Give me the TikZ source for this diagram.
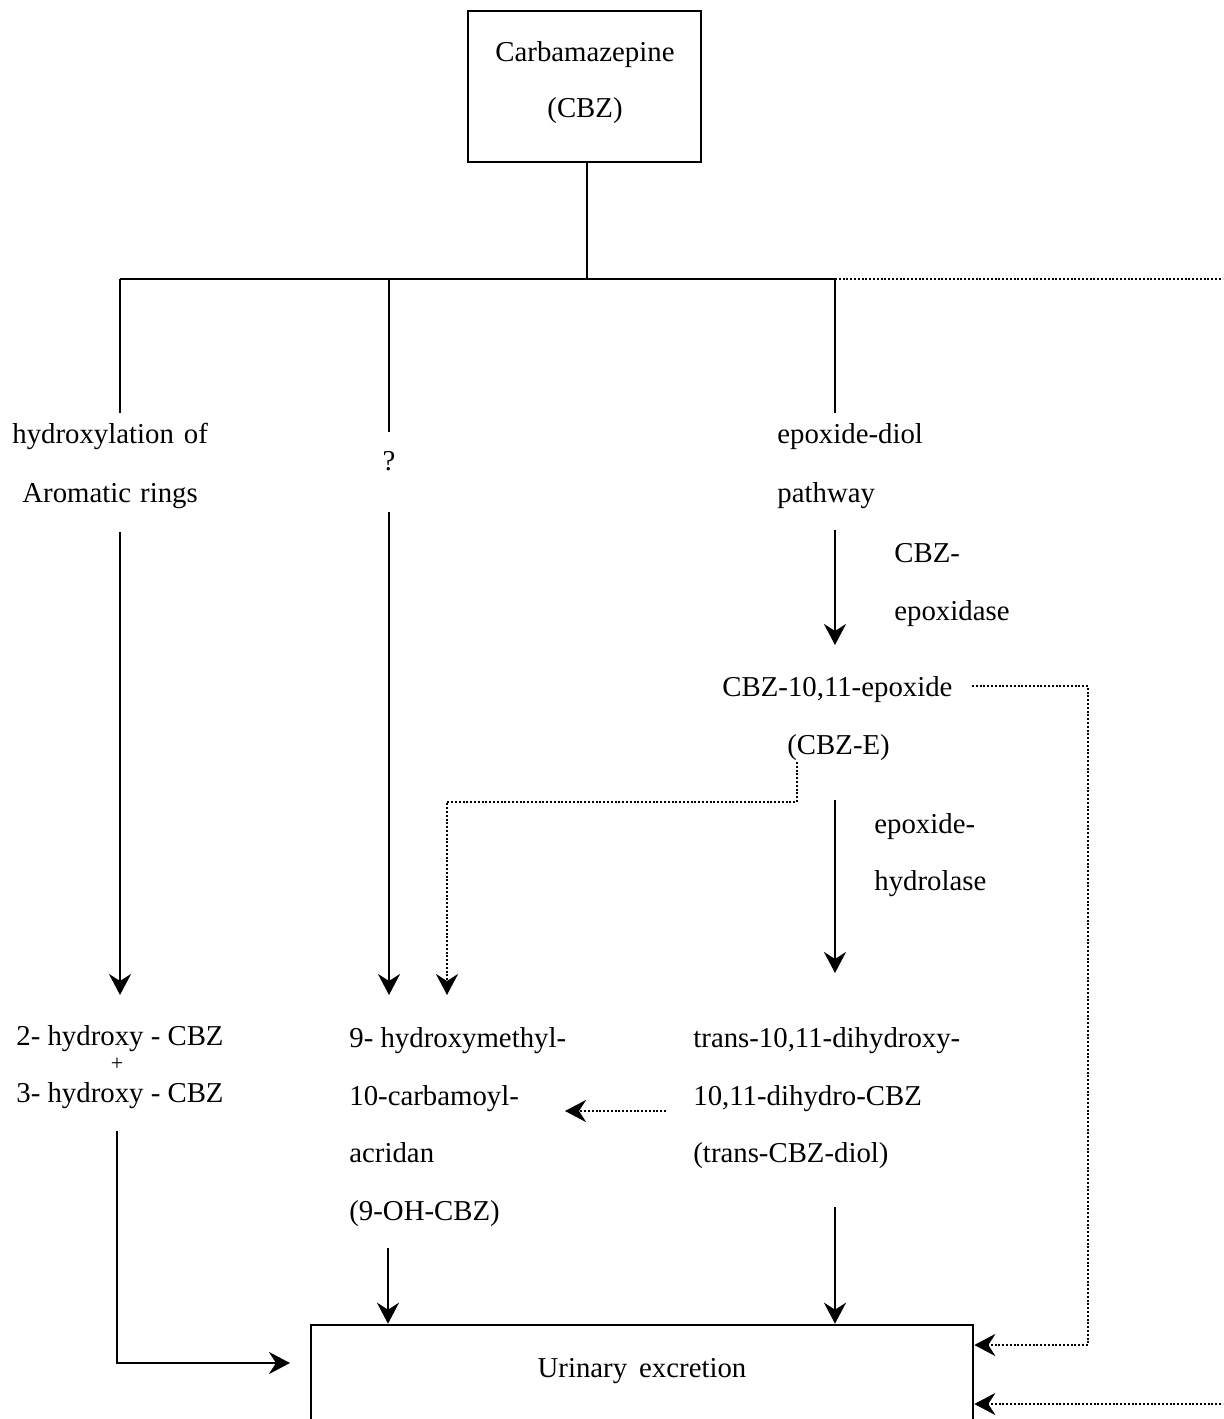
\documentclass[tikz,border=0pt]{standalone}
\usepackage{fontspec}
\setmainfont{Liberation Serif}
\usetikzlibrary{arrows.meta}
\begin{document}
\begin{tikzpicture}[x=0.5pt,y=-0.5pt,
  lbl/.style={inner sep=0pt, anchor=base west, font=\fontsize{14.4}{17}\selectfont},
  clbl/.style={lbl, anchor=base},
  solidline/.style={line width=1.3pt},
  dotline/.style={line width=1.3pt, dash pattern=on 1pt off 0.9pt},
  tip/.style={-{Stealth[length=10.5pt,width=11pt,inset=3.5pt]}},
  ]
\useasboundingbox (0,0) rectangle (1223,1419);
\clip (0,0) rectangle (1223,1419);

% top box
\node[draw, line width=1.3pt, minimum width=116.5pt, minimum height=75.5pt, inner sep=0pt] (cbz) at (584.5,86.5) {};
\node[clbl] (cbzname) at (585,61) {Carbamazepine};
\node[clbl] (cbzabbr) at (585,117) {(CBZ)};

% bottom box
\node[draw, line width=1.3pt, minimum width=331pt, minimum height=100pt, inner sep=0pt] (urine) at (642,1425) {};
\node[clbl] (urtext) at (642,1377) {Urinary\hspace{6pt}excretion};

% labels
\node[lbl] (hyd1) at (12,443) {hydroxylation\hspace{5pt}of};
\node[lbl] (hyd2) at (22,502) {Aromatic\hspace{4.5pt}rings};
\node[clbl] (qm) at (389,470) {?};
\node[lbl] (epd1) at (777,443) {epoxide-diol};
\node[lbl] (epd2) at (777,502) {pathway};
\node[lbl] (enz1a) at (894,562) {CBZ-};
\node[lbl] (enz1b) at (894,620) {epoxidase};
\node[lbl] (cbze1) at (722,696) {CBZ-10,11-epoxide};
\node[lbl] (cbze2) at (787,754) {(CBZ-E)};
\node[lbl] (enz2a) at (874,833) {epoxide-};
\node[lbl] (enz2b) at (874,890) {hydrolase};
\node[lbl] (oh1) at (16,1045) {2- hydroxy - CBZ};
\node[inner sep=0pt, font=\fontsize{11}{12}\selectfont] (plus) at (117,1064) {+};
\node[lbl] (oh2) at (16,1102) {3- hydroxy - CBZ};
\node[lbl] (acr1) at (349,1047) {9- hydroxymethyl-};
\node[lbl] (acr2) at (349,1105) {10-carbamoyl-};
\node[lbl] (acr3) at (349,1162) {acridan};
\node[lbl] (acr4) at (349,1220) {(9-OH-CBZ)};
\node[lbl] (dio1) at (693,1047) {trans-10,11-dihydroxy-};
\node[lbl] (dio2) at (693,1105) {10,11-dihydro-CBZ};
\node[lbl] (dio3) at (693,1162) {(trans-CBZ-diol)};

% junction coordinates
\coordinate (jn) at (587,279);
\coordinate (jl) at (120,279);
\coordinate (jm) at (389,279);
\coordinate (jr) at (835,279);
\coordinate (jre) at (1240,279);

\draw[solidline] (cbz.south -| jn) -- (jn);
\draw[solidline] (jl) -- (jr);
\draw[dotline] (jr) -- (jre);

% left branch
\coordinate (l1) at (120,413);
\coordinate (l2) at (120,532);
\coordinate (l3) at (120,995);
\draw[solidline] (jl) -- (l1);
\draw[solidline,tip] (l2) -- (l3);

% middle branch
\coordinate (m1) at (389,432);
\coordinate (m2) at (389,512);
\coordinate (m3) at (389,995);
\draw[solidline] (jm) -- (m1);
\draw[solidline,tip] (m2) -- (m3);

% right branch
\coordinate (r1) at (835,413);
\coordinate (r2) at (835,530);
\coordinate (r3) at (835,645);
\coordinate (r4) at (835,800);
\coordinate (r5) at (835,973);
\coordinate (r6) at (835,1207);
\draw[solidline] (jr) -- (r1);
\draw[solidline,tip] (r2) -- (r3);
\draw[solidline,tip] (r4) -- (r5);
\draw[solidline,tip] (r6) -- (r6 |- urine.north);

% CBZ-E to 9-OH-CBZ (dotted)
\coordinate (e1) at (797,762);
\coordinate (e2) at (797,802);
\coordinate (e3) at (447,802);
\coordinate (e4) at (447,995);
\draw[dotline,tip] (e1) -- (e2) -- (e3) -- (e4);

% CBZ-E to urine (dotted)
\coordinate (f1) at (972,686);
\coordinate (f2) at (1088,686);
\coordinate (f3) at (1088,1345);
\draw[dotline,tip] (f1) -- (f2) -- (f3) -- (f3 -| urine.east);

% from right edge to urine (dotted)
\coordinate (g1) at (1240,1404);
\draw[dotline,tip] (g1) -- (g1 -| urine.east);

% diol to 9-OH-CBZ (dotted)
\coordinate (d1) at (666,1111);
\coordinate (d2) at (565,1111);
\draw[dotline,tip] (d1) -- (d2);

% hydroxy-CBZ to urine
\coordinate (h1) at (117,1131);
\coordinate (h2) at (117,1363);
\coordinate (h3) at (290,1363);
\draw[solidline,tip] (h1) -- (h2) -- (h3);

% 9-OH-CBZ to urine
\coordinate (a1) at (388,1248);
\draw[solidline,tip] (a1) -- (a1 |- urine.north);
\end{tikzpicture}
\end{document}
